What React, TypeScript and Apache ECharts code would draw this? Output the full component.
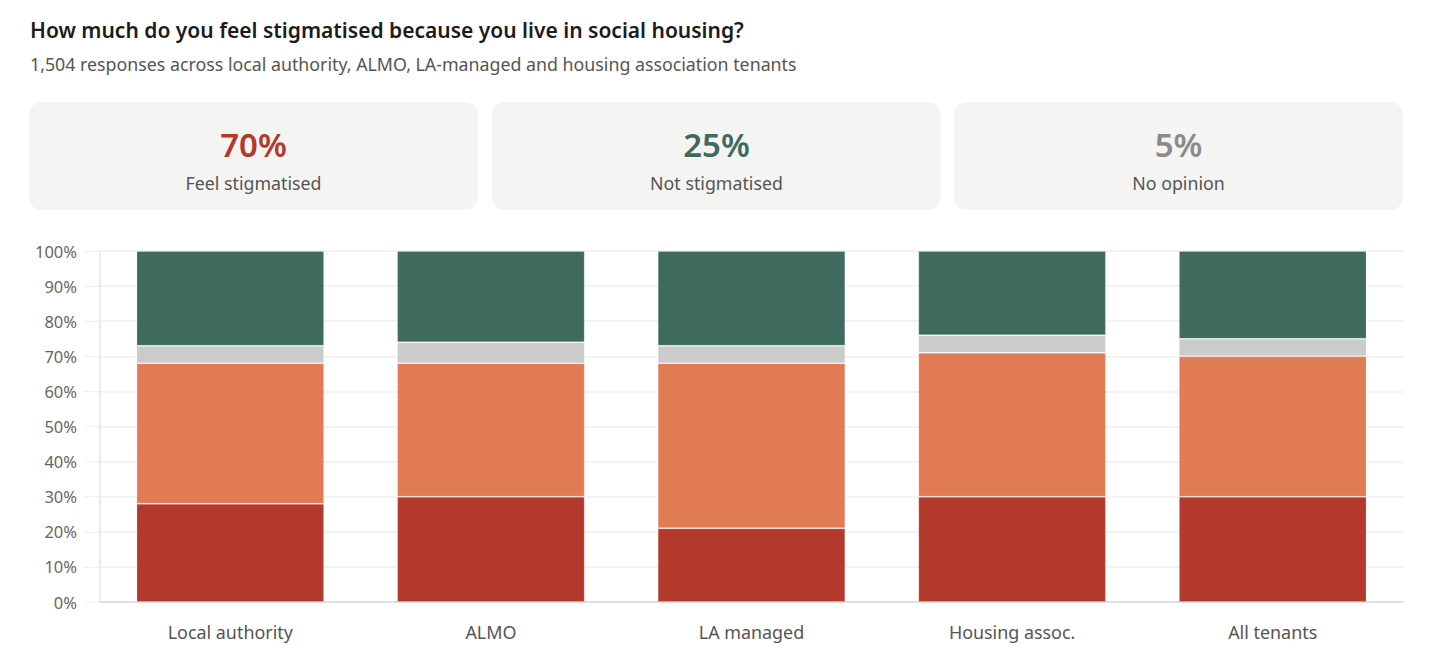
import React, { useEffect, useRef } from "react";
import * as echarts from "echarts";

const categories = ["Local authority", "ALMO", "LA managed", "Housing assoc.", "All tenants"];
const veryStigmatised = [28, 30, 21, 30, 30];
const fairlyStigmatised = [40, 38, 47, 41, 40];
const noOpinion = [5, 6, 5, 5, 5];
const notStigmatised = [27, 26, 27, 24, 25];

const seriesNames = ["Very stigmatised", "Somewhat stigmatised", "No opinion", "Not stigmatised"];
const seriesColors = ["#b2392b", "#e07b53", "#cbcbcb", "#3e6b5e"];

const kpiValues = ["70%", "25%", "5%"];
const kpiLabels = ["Feel stigmatised", "Not stigmatised", "No opinion"];
const kpiColors = ["#b2392b", "#3e6b5e", "#8a8a8a"];

const titleText = "How much do you feel stigmatised because you live in social housing?";
const subtitleText = "1,504 responses across local authority, ALMO, LA-managed and housing association tenants";

const FONT = "'Segoe UI', 'Noto Sans', 'Open Sans', sans-serif";

export default function App() {
  const ref = useRef<HTMLDivElement>(null);

  useEffect(() => {
    if (!ref.current) return;
    document.body.style.margin = "0";
    const chart = echarts.init(ref.current, undefined, { renderer: "svg" });

    const cardX = [29, 492, 954];
    const cardW = 449;
    const cardY = 102;
    const cardH = 108;

    const cards = kpiValues.map((v, i) => ({
      type: "group",
      x: cardX[i],
      y: cardY,
      children: [
        {
          type: "rect",
          shape: { x: 0, y: 0, width: cardW, height: cardH, r: 13 },
          style: { fill: "#f4f4f2" },
        },
        {
          type: "text",
          x: cardW / 2,
          y: 42,
          style: {
            text: v,
            fill: kpiColors[i],
            fontSize: 33,
            fontWeight: 600,
            fontFamily: FONT,
            align: "center",
            verticalAlign: "middle",
          },
        },
        {
          type: "text",
          x: cardW / 2,
          y: 81,
          style: {
            text: kpiLabels[i],
            fill: "#555555",
            fontSize: 17.8,
            fontFamily: FONT,
            align: "center",
            verticalAlign: "middle",
          },
        },
      ],
    }));

    const data = [veryStigmatised, fairlyStigmatised, noOpinion, notStigmatised];

    chart.setOption({
      animation: false,
      textStyle: { fontFamily: FONT },
      title: {
        text: titleText,
        subtext: subtitleText,
        left: 30,
        top: 17,
        itemGap: 10,
        padding: 0,
        textStyle: { fontSize: 21, fontWeight: 600, color: "#1c1c1c", fontFamily: FONT, lineHeight: 26 },
        subtextStyle: { fontSize: 17.8, color: "#555555", fontFamily: FONT, lineHeight: 22 },
      },
      graphic: cards,
      tooltip: { show: false },
      grid: { left: 100, right: 29, top: 251, bottom: 62, containLabel: false },
      xAxis: {
        type: "category",
        data: categories,
        axisLine: { show: true, lineStyle: { color: "#d9d9d9", width: 1.5 } },
        axisTick: { show: false },
        axisLabel: { color: "#555555", fontSize: 17.9, margin: 21, fontFamily: FONT },
      },
      yAxis: {
        type: "value",
        min: 0,
        max: 100,
        interval: 10,
        axisLine: { show: true, lineStyle: { color: "#e6e6e6", width: 1.5 } },
        axisTick: { show: true, length: 15, lineStyle: { color: "#eeeeee" } },
        axisLabel: { formatter: "{value}%", color: "#666666", fontSize: 16.5, margin: 23, fontFamily: FONT },
        splitLine: { show: true, lineStyle: { color: "#efefef", width: 1.5 } },
      },
      series: data.map((d, i) => ({
        name: seriesNames[i],
        type: "bar",
        stack: "total",
        barWidth: "72%",
        data: d,
        itemStyle: {
          color: seriesColors[i],
          borderColor: "rgba(255,255,255,0.2)",
          borderWidth: 1,
        },
        emphasis: { disabled: true },
      })),
    });

    return () => chart.dispose();
  }, []);

  return <div ref={ref} style={{ width: 1432, height: 664, background: "#ffffff" }} />;
}
